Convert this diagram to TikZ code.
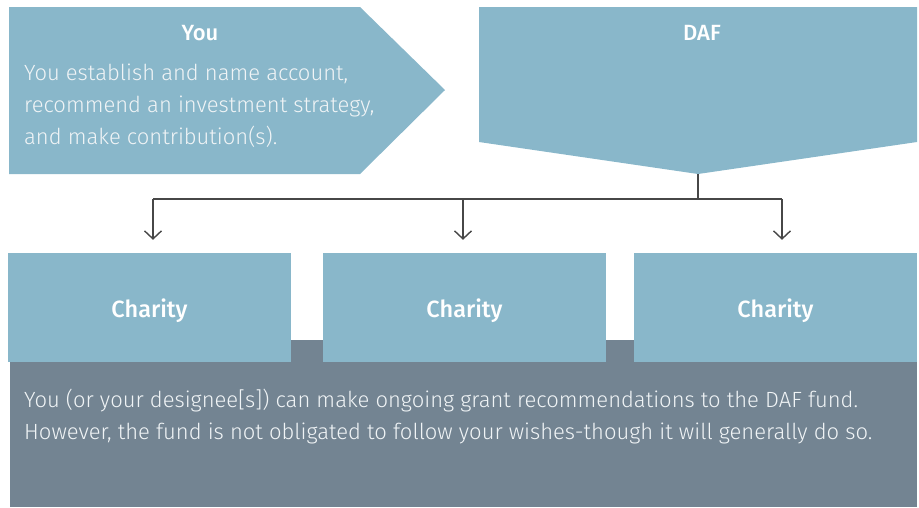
\documentclass[tikz,border=0pt]{standalone}
\usepackage{fontspec}
\setmainfont{Fira Sans}[UprightFont={* Light}, BoldFont={* Medium}]
\usetikzlibrary{arrows.meta}

\definecolor{dafblue}{HTML}{89B7CA}
\definecolor{dafgray}{HTML}{738492}
\definecolor{dafline}{HTML}{474747}
\definecolor{daftext}{HTML}{F0F4F6}

\begin{document}
\begin{tikzpicture}[x=1pt, y=-1pt,
  box/.style={fill=dafblue, inner sep=0pt, minimum width=283pt, minimum height=109pt,
    text=white, font=\fontsize{23.5}{28}\selectfont\bfseries, text height=19pt, text depth=0pt},
  heading/.style={text=white, font=\fontsize{22}{26}\selectfont\bfseries},
  body/.style={text=daftext, font=\fontsize{22}{32}\selectfont, align=left, anchor=north west, inner sep=0pt},
  link/.style={draw=dafline, line width=1.4pt},
  arrow/.style={link, -{Straight Barb[length=8pt, width=17pt]}, shorten >=13pt}]
\useasboundingbox (0,0) rectangle (919,507);
% background panel
\fill[dafgray] (10,340) rectangle (917,507);
% you and daf shapes
\fill[dafblue] (9,7) -- (360,7) -- (445,90) -- (360,174) -- (9,174) -- cycle;
\fill[dafblue] (479,7) -- (917,7) -- (917,142) -- (698,174) -- (479,142) -- cycle;
\coordinate (daftip) at (698,174);

\node[heading] (you) at (200,33) {You};
\node[body] (youtext) at (24,63.5) {You establish and name account,\\recommend an investment strategy,\\and make contribution(s).};
\node[heading] (daf) at (702,33) {DAF};

\node[box] (charity1) at (149.5,307.5) {Charity};
\node[box] (charity2) at (464.5,307.5) {Charity};
\node[box] (charity3) at (775.5,307.5) {Charity};

\node[body] (note) at (24,388.5) {You (or your designee[s]) can make ongoing grant recommendations to the DAF fund.\\However, the fund is not obligated to follow your wishes-though it will generally do so.};

% connectors
\coordinate (split) at (698,199);
\coordinate (fork1) at (153,199);
\coordinate (fork2) at (463,199);
\coordinate (fork3) at (782,199);
\draw[link] (daftip) -- (split);
\draw[link] (fork1) -- (fork3);
\foreach \i in {1,2,3}
  \draw[arrow] (fork\i) -- (fork\i |- charity\i.north);
\end{tikzpicture}
\end{document}
